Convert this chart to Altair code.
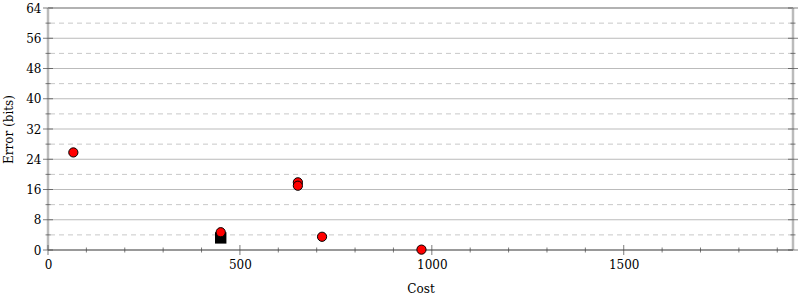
import altair as alt
import pandas as pd

# ---- data ----
cost = [66, 450, 651, 651, 714, 973]
error = [25.8, 4.7, 17.9, 17.0, 3.5, 0.1]
best_cost = [450]
best_error = [3.2]

x_major = [0, 500, 1000, 1500]
x_minor = [100, 200, 300, 400, 600, 700, 800, 900, 1100, 1200, 1300, 1400, 1600, 1700, 1800, 1900]
y_major = [0, 8, 16, 24, 32, 40, 48, 56, 64]
y_minor = [4, 12, 20, 28, 36, 44, 52, 60]
y_solid_grid = [8, 16, 24, 32, 40, 48, 56]
X_MAX = 1941
Y_MAX = 64

FONT = "DejaVu Serif"

xscale = alt.Scale(domain=[0, X_MAX], nice=False, zero=True)
yscale = alt.Scale(domain=[0, Y_MAX], nice=False, zero=True)

xaxis = alt.Axis(values=x_major, format="d", labelPadding=9, titlePadding=13,
                 labelFlush=False, labelFont=FONT, labelFontSize=12, labelOverlap=False)
yaxis = alt.Axis(values=y_major, format="d", labelPadding=7, titlePadding=10,
                 labelFlush=False, labelFont=FONT, labelFontSize=12, labelOverlap=False)


def X(field="cost"):
    return alt.X(f"{field}:Q", scale=xscale, axis=xaxis, title="Cost")


def Y(field="error"):
    return alt.Y(f"{field}:Q", scale=yscale, axis=yaxis, title="Error (bits)")


pts = pd.DataFrame({"cost": cost, "error": error})
best = pd.DataFrame({"cost": best_cost, "error": best_error})

dash_df = pd.DataFrame({"error": y_minor})
grid_df = pd.DataFrame({"error": y_solid_grid})
top_df = pd.DataFrame({"error": [Y_MAX]})
bottom_df = pd.DataFrame({"error": [0]})
side_df = pd.DataFrame({"cost": [0, X_MAX]})

xmaj_df = pd.DataFrame({"cost": x_major, "error": [0] * len(x_major)})
xmin_df = pd.DataFrame({"cost": x_minor, "error": [0] * len(x_minor)})
ymaj_l = pd.DataFrame({"error": y_major, "cost": [0] * len(y_major)})
ymin_l = pd.DataFrame({"error": y_minor, "cost": [0] * len(y_minor)})
ymaj_r = pd.DataFrame({"error": y_major, "cost": [X_MAX] * len(y_major)})
ymin_r = pd.DataFrame({"error": y_minor, "cost": [X_MAX] * len(y_minor)})

dash_rules = alt.Chart(dash_df).mark_rule(color="#c8c8c8", strokeDash=[5, 4], strokeWidth=1).encode(y=Y())
solid_rules = alt.Chart(grid_df).mark_rule(color="#bbbbbb", strokeWidth=1).encode(y=Y())
top_rule = alt.Chart(top_df).mark_rule(color="#999999", strokeWidth=1.5).encode(y=Y())
side_rules = alt.Chart(side_df).mark_rule(color="#bbbbbb", strokeWidth=2.5).encode(x=X())
bottom_rule = alt.Chart(bottom_df).mark_rule(color="#999999", strokeWidth=2).encode(y=Y())

tick_color = "#444444"
xt_major = alt.Chart(xmaj_df).mark_tick(orient="vertical", size=10, thickness=1, color=tick_color).encode(x=X(), y=Y())
xt_minor = alt.Chart(xmin_df).mark_tick(orient="vertical", size=5, thickness=1, color=tick_color).encode(x=X(), y=Y())
yt_major_l = alt.Chart(ymaj_l).mark_tick(orient="horizontal", size=10, thickness=1, color=tick_color).encode(x=X(), y=Y())
yt_minor_l = alt.Chart(ymin_l).mark_tick(orient="horizontal", size=5, thickness=1, color=tick_color).encode(x=X(), y=Y())
yt_major_r = alt.Chart(ymaj_r).mark_tick(orient="horizontal", size=10, thickness=1, color=tick_color).encode(x=X(), y=Y())
yt_minor_r = alt.Chart(ymin_r).mark_tick(orient="horizontal", size=5, thickness=1, color=tick_color).encode(x=X(), y=Y())

best_layer = alt.Chart(best).mark_point(shape="square", filled=True, size=130, color="black", opacity=1).encode(x=X(), y=Y())
pts_layer = alt.Chart(pts).mark_point(shape="circle", filled=True, size=85, fill="#ff0000",
                                      stroke="black", strokeWidth=1, opacity=1).encode(x=X(), y=Y())

chart = alt.layer(
    dash_rules, solid_rules, top_rule, side_rules, bottom_rule,
    xt_minor, xt_major, yt_minor_l, yt_major_l, yt_minor_r, yt_major_r,
    best_layer, pts_layer,
).properties(
    width=745, height=242,
    autosize=alt.AutoSizeParams(type="none"),
    padding={"left": 48, "top": 8, "right": 7, "bottom": 50},
    background="white",
).configure_view(
    stroke=None
).configure_axis(
    ticks=False, domain=False, grid=False, labelFlush=False,
    labelFont=FONT, labelFontSize=12, labelColor="black",
    titleFont=FONT, titleFontSize=12, titleFontWeight="normal", titleColor="black",
)

chart.save("out.html", embed_options={"renderer": "svg", "actions": False})
